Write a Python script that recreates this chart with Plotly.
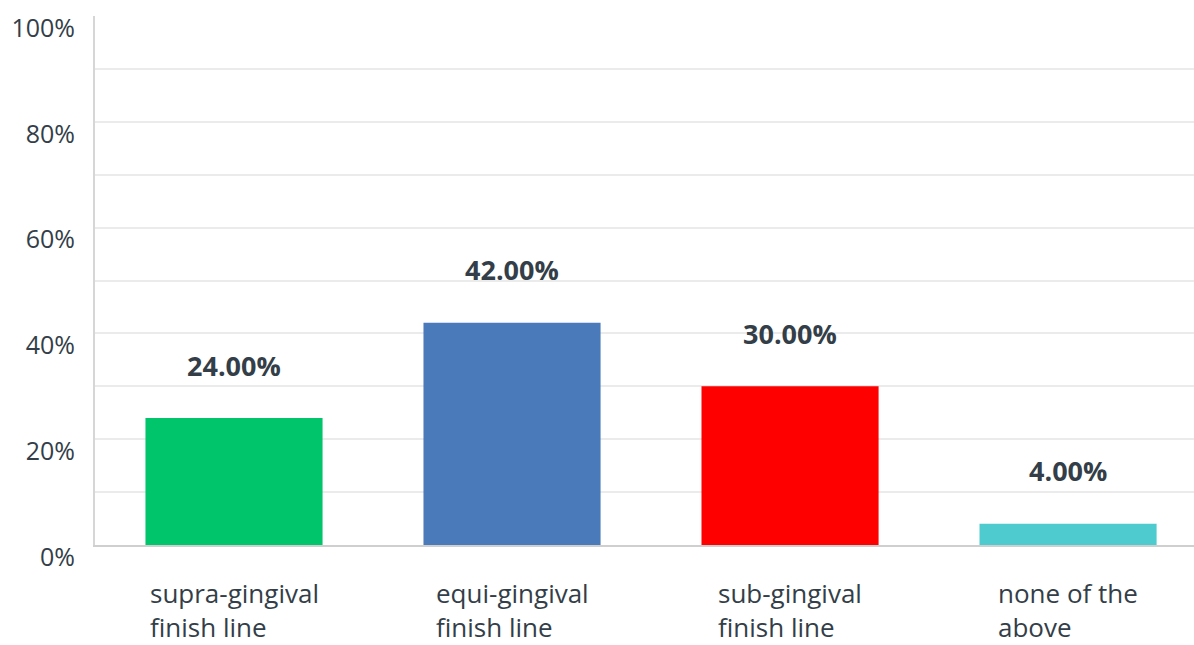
import plotly.graph_objects as go

categories = ["supra-gingival<br>finish line", "equi-gingival<br>finish line",
              "sub-gingival<br>finish line", "none of the<br>above"]
values = [24.0, 42.0, 30.0, 4.0]
colors = ["#00c56b", "#4a7aba", "#ff0000", "#4ecbcf"]
y_ticks = [0, 20, 40, 60, 80, 100]
y_ticktext = ["0%", "20%", "40%", "60%", "80%", "100%"]
grid_vals = [10, 20, 30, 40, 50, 60, 70, 80, 90]

TEXT = "#333e48"
FONT = "Open Sans"
x_pos = list(range(len(categories)))

fig = go.Figure()
fig.add_trace(go.Bar(
    x=x_pos, y=values, marker=dict(color=colors, line=dict(width=0)),
    width=0.637, showlegend=False, hoverinfo="skip",
))
# invisible trace to anchor the grid axis
fig.add_trace(go.Scatter(x=[0], y=[0], yaxis="y2", mode="markers",
                         marker=dict(opacity=0), showlegend=False, hoverinfo="skip"))

annotations = []
for xi, v in zip(x_pos, values):
    annotations.append(dict(
        x=xi, y=v, xref="x", yref="y", text=f"<b>{v:.2f}%</b>",
        showarrow=False, yanchor="middle", yshift=53,
        font=dict(family=FONT, size=27, color=TEXT),
    ))
for xi, c in zip(x_pos, categories):
    annotations.append(dict(
        x=xi, y=0, xref="x", yref="paper", text=c, align="left",
        showarrow=False, xanchor="center", yanchor="top", yshift=-28,
        font=dict(family=FONT, size=26, color=TEXT),
    ))

fig.update_layout(
    width=1194, height=645,
    margin=dict(l=95, r=0, t=16, b=100),
    paper_bgcolor="white", plot_bgcolor="white",
    font=dict(family=FONT, color=TEXT),
    annotations=annotations,
    xaxis=dict(range=[-0.5, 3.453], showgrid=False, zeroline=False,
               showticklabels=False, ticks="",
               showline=True, linecolor="#cfcfcf", linewidth=2),
    yaxis=dict(range=[0, 100], tickvals=y_ticks, ticktext=y_ticktext,
               showgrid=False, zeroline=False,
               showline=True, linecolor="#d6d6d6", linewidth=2,
               ticks="", ticklabelposition="outside",
               ticklabelshift=12, ticklabelstandoff=13,
               tickfont=dict(family=FONT, size=25, color=TEXT)),
    yaxis2=dict(range=[0, 100], overlaying="y", tickvals=grid_vals,
                showgrid=True, gridcolor="#ebebeb", gridwidth=2,
                showticklabels=False, zeroline=False, ticks=""),
)
fig.data[1].update(xaxis="x")

fig.write_html("out.html")
